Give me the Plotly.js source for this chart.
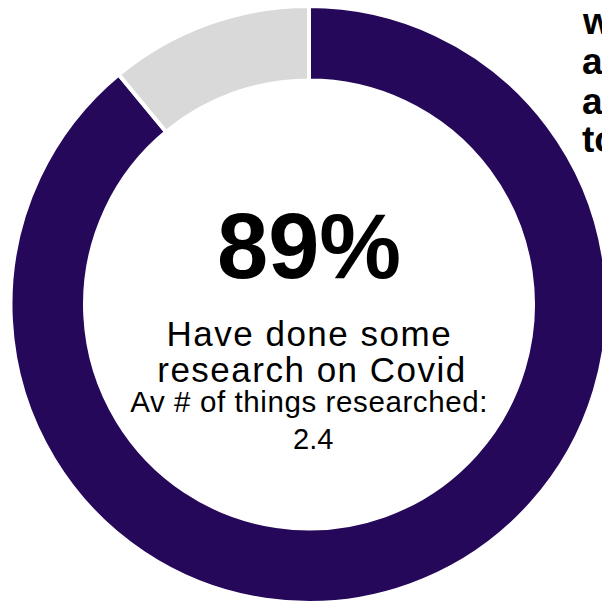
<!DOCTYPE html>
<html>
<head>
<meta charset="utf-8">
<script src="https://cdn.plot.ly/plotly-3.0.1.min.js"></script>
<style>
html, body { margin: 0; padding: 0; overflow: hidden; background: #ffffff; width: 602px; height: 603px; }
#chart { width: 700px; height: 700px; }
g.annotation[data-index="1"] text, g.annotation[data-index="2"] text { letter-spacing: 1.5px; }
g.annotation[data-index="3"] text { letter-spacing: 0.6px; }
</style>
</head>
<body>
<div id="chart"></div>
<script>
// Data
const categories = ["Have done some research on Covid", "Have not"];
const shares = [89, 11];
const sliceColors = ["#25085A", "#D9D9D9"];
const headline = "89%";
const centerLines = ["Have done some", "research on Covid"];
const subLines = ["Av # of things researched:", "2.4"];
const sideLines = ["what", "are", "all", "told"];

const W = 700, H = 700;
const fx = px => px / W;
const fy = py => 1 - py / H;

const cx = 309, cy = 304.5, R = 298.5;

const trace = {
  type: "pie",
  labels: categories,
  values: shares,
  sort: false,
  direction: "clockwise",
  rotation: 0,
  hole: 0.7504,
  textinfo: "none",
  hoverinfo: "label+percent",
  marker: { colors: sliceColors, line: { color: "#ffffff", width: 4 } },
  domain: { x: [fx(cx - R), fx(cx + R)], y: [fy(cy + R), fy(cy - R)] },
  showlegend: false
};

const font = "Liberation Sans, Arial, Helvetica, sans-serif";
const annotations = [
  { text: "<b>" + headline + "</b>", x: fx(309), y: fy(245.5), size: 92 },
  { text: centerLines[0], x: fx(309), y: fy(334), size: 35 },
  { text: centerLines[1], x: fx(312), y: fy(369.7), size: 35 },
  { text: subLines[0], x: fx(309), y: fy(401.7), size: 29.5 },
  { text: subLines[1], x: fx(313), y: fy(439), size: 29 }
].map(a => ({
  text: a.text, x: a.x, y: a.y, xref: "paper", yref: "paper",
  xanchor: "center", yanchor: "middle", showarrow: false,
  font: { family: font, size: a.size, color: "#000000" }
}));

const sideY = [21, 61.5, 101.5, 139];
sideLines.forEach((t, i) => {
  annotations.push({
    text: "<b>" + t + "</b>", x: fx(579.5), y: fy(sideY[i]), xref: "paper", yref: "paper",
    xanchor: "left", yanchor: "middle", showarrow: false, align: "left",
    font: { family: font, size: 37, color: "#000000" }
  });
});

const layout = {
  width: W, height: H,
  margin: { l: 0, r: 0, t: 0, b: 0 },
  paper_bgcolor: "#ffffff",
  plot_bgcolor: "#ffffff",
  annotations: annotations
};

Plotly.newPlot("chart", [trace], layout, { displayModeBar: false, staticPlot: true });
</script>
</body>
</html>
